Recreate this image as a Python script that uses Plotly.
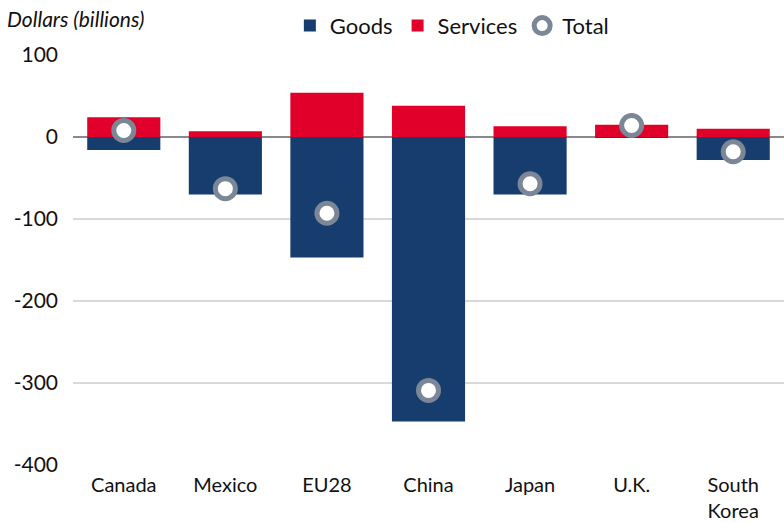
import plotly.graph_objects as go

# Trade balance by partner, billions of dollars
partners = ["Canada", "Mexico", "EU28", "China", "Japan", "U.K.", "South<br>Korea"]
goods = [-16, -70, -147, -347, -70, -1, -28]
services = [24, 7, 54, 38, 13, 15, 10]
total = [8, -63, -93, -309, -57, 14, -18]

y_ticks = [100, 0, -100, -200, -300, -400]
y_tick_labels = ["100", "0", "-100", "-200", "-300", "-400"]

NAVY = "#163d6d"
RED = "#e0002a"
RING = "#7b8796"
FONT = "Lato"

fig = go.Figure()
fig.add_trace(go.Bar(
    x=partners, y=goods, name="Goods",
    marker=dict(color=NAVY, line=dict(width=0)),
))
fig.add_trace(go.Bar(
    x=partners, y=services, name="Services",
    marker=dict(color=RED, line=dict(width=0)),
))
fig.add_trace(go.Scatter(
    x=partners, y=total, name="Total", mode="markers",
    marker=dict(symbol="circle", size=20, color="white",
                line=dict(color=RING, width=5)),
))

fig.update_layout(
    width=784, height=523,
    barmode="relative",
    bargap=0.28,
    plot_bgcolor="white", paper_bgcolor="white",
    margin=dict(l=73, r=0, t=55, b=58),
    font=dict(family=FONT, size=21, color="#111111"),
    showlegend=True,
    legend=dict(
        orientation="h", x=0.305, xanchor="left", y=1.02, yanchor="bottom",
        font=dict(size=22), itemwidth=30, traceorder="normal",
        bgcolor="rgba(0,0,0,0)", tracegroupgap=0,
    ),
    xaxis=dict(showgrid=False, showline=False, ticks="", automargin=False,
               tickfont=dict(size=20), ticklabelstandoff=6),
    yaxis=dict(
        range=[-400, 100], tickvals=y_ticks, ticktext=y_tick_labels,
        automargin=False,
        showgrid=True, gridcolor="#d9d9d9", gridwidth=1.5,
        zeroline=True, zerolinecolor="#8a8a8a", zerolinewidth=2,
        ticks="", tickfont=dict(size=21), ticklabelstandoff=14,
    ),
    annotations=[dict(
        text="<i>Dollars (billions)</i>", xref="paper", yref="paper",
        x=-0.095, y=1.0, xanchor="left", yanchor="bottom", yshift=22,
        showarrow=False, font=dict(size=21, family=FONT),
    )],
)

fig.write_html("out.html")
